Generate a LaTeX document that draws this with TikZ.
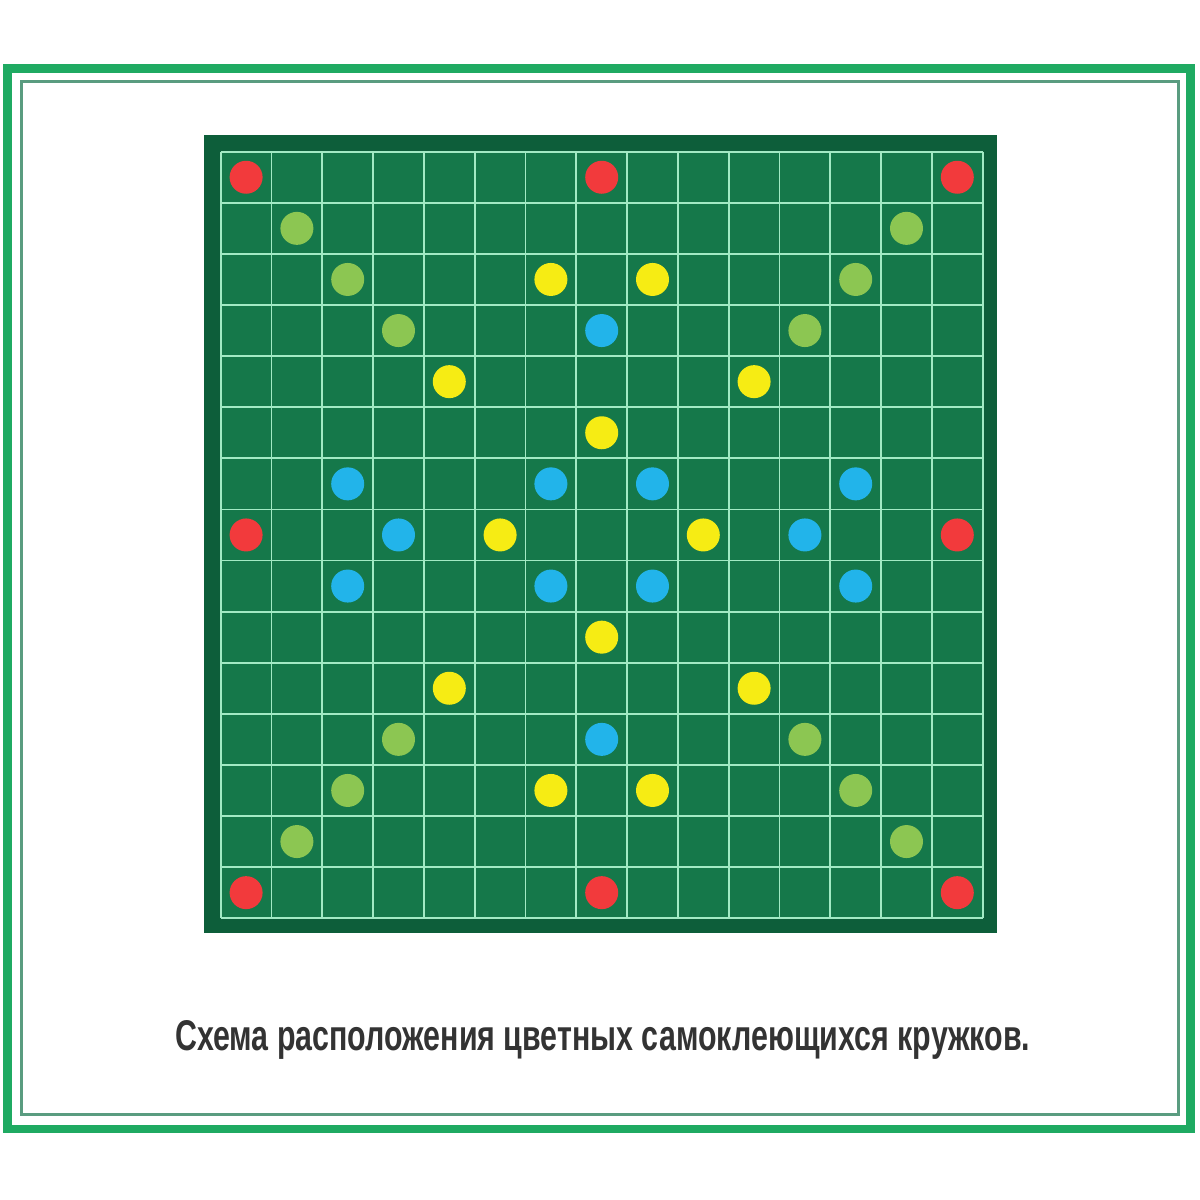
\documentclass[tikz,border=0pt]{standalone}
\usepackage{fontspec}
\setmainfont{Liberation Sans}
\definecolor{outerframe}{HTML}{1FAA62}
\definecolor{innerframe}{HTML}{5A9C80}
\definecolor{boardedge}{HTML}{0D5E3A}
\definecolor{boardcell}{HTML}{15784A}
\definecolor{gridline}{HTML}{A2EAC4}
\definecolor{dotred}{HTML}{F23A3C}
\definecolor{dotlgreen}{HTML}{8CC652}
\definecolor{dotyellow}{HTML}{F6EC14}
\definecolor{dotblue}{HTML}{22B4EA}
\definecolor{captiontext}{HTML}{333333}
\tikzset{
  cellgrid/.style={draw=gridline, line width=1.8pt},
  dotpiece/.style={circle, inner sep=0pt, minimum size=33pt},
}
\begin{document}
\begin{tikzpicture}[x=1pt,y=-1pt]
\useasboundingbox (0,0) rectangle (1200,1200);
\fill[white] (0,0) rectangle (1200,1200);
% frames
\draw[outerframe, line width=8.5pt] (7.5,68.5) rectangle (1190.5,1129);
\draw[innerframe, line width=3pt] (21.5,81.5) rectangle (1178,1114);
% board
\fill[boardedge] (204,135) rectangle (997,933);
\fill[boardcell] (220.7,151.7) rectangle (982.7,918.3);
\foreach \i in {0,...,15}{
  \draw[cellgrid] ({220.7+\i*50.8},151.7) -- ({220.7+\i*50.8},918.3);
  \draw[cellgrid] (220.7,{151.7+\i*51.1}) -- (982.7,{151.7+\i*51.1});
}
\newcommand{\putdot}[3]{%
  \node[dotpiece, fill=#3] at ({220.7+(#2+0.5)*50.8},{151.7+(#1+0.5)*51.1}) {};}
% red
\foreach \r/\c in {0/0,0/7,0/14,7/0,7/14,14/0,14/7,14/14}{\putdot{\r}{\c}{dotred}}
% light green
\foreach \r/\c in {1/1,2/2,3/3,1/13,2/12,3/11,11/3,12/2,13/1,11/11,12/12,13/13}{\putdot{\r}{\c}{dotlgreen}}
% yellow
\foreach \r/\c in {2/6,2/8,4/4,4/10,5/7,7/5,7/9,9/7,10/4,10/10,12/6,12/8}{\putdot{\r}{\c}{dotyellow}}
% blue
\foreach \r/\c in {3/7,6/2,6/6,6/8,6/12,7/3,7/11,8/2,8/6,8/8,8/12,11/7}{\putdot{\r}{\c}{dotblue}}
% caption
\node[anchor=base west, inner sep=0pt, text=captiontext] (caption) at (175,1050)
  {\resizebox{855pt}{30pt}{\bfseries Схема расположения цветных самоклеющихся кружков.}};
\end{tikzpicture}
\end{document}
